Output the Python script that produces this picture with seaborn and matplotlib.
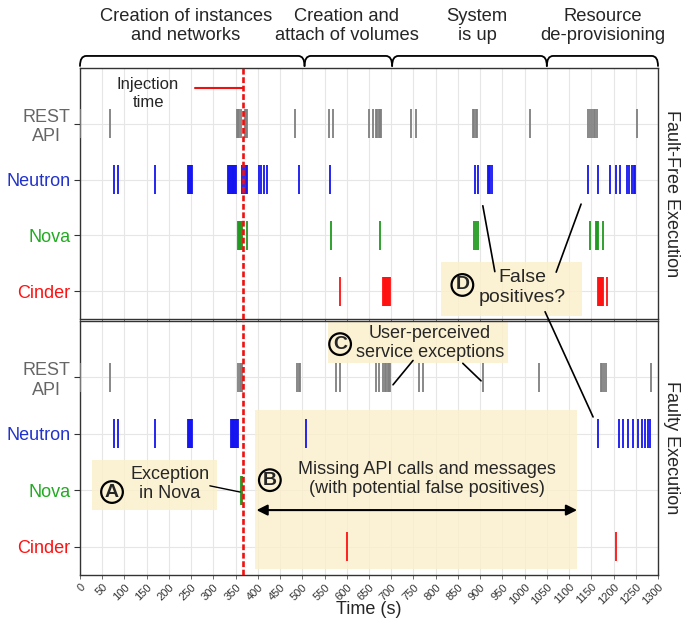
import numpy as np
import pandas as pd
import matplotlib
matplotlib.use("Agg")
import matplotlib.pyplot as plt
from matplotlib.path import Path
from matplotlib.patches import PathPatch, Rectangle, ConnectionPatch
import matplotlib.transforms as mtransforms
import seaborn as sns

# ---- data (seconds) ----
components = ['Cinder', 'Nova', 'Neutron', 'REST API']
tick_labels = ['Cinder', 'Nova', 'Neutron', 'REST\nAPI']

rest_ff = [1, 67, 352, 355, 358, 361, 371, 374, 376, 483, 561, 570, 651, 658, 666, 669, 672,
           675, 678, 744, 756, 884, 887, 890, 894, 1012, 1143, 1147, 1151, 1155, 1159, 1163, 1253]
neutron_ff = [76, 86, 169, 244, 246, 248, 250, 252, 333, 335, 337, 339, 341, 343, 345, 347, 349,
              351, 364, 369, 373, 376, 403, 408, 414, 420, 493, 562, 888, 896, 917, 920, 923, 926,
              1143, 1164, 1192, 1206, 1215, 1230, 1235, 1241, 1246, 1249]
nova_ff = [356, 358, 360, 362, 364, 375, 564, 675, 886, 891, 896, 1146, 1161, 1163, 1165, 1177]
cinder_ff = [585, 681, 683, 685, 687, 689, 691, 693, 695, 697, 1166, 1168, 1170, 1172, 1174, 1176, 1185]

rest_f = [1, 67, 356, 359, 362, 365, 489, 492, 495, 576, 584, 666, 673, 681, 686, 689, 692, 695,
          697, 763, 772, 906, 1033, 1171, 1175, 1179, 1182, 1284]
neutron_f = [76, 86, 169, 244, 246, 248, 250, 252, 339, 341, 343, 345, 347, 349, 351, 353, 356,
             508, 1164, 1213, 1222, 1232, 1243, 1256, 1263, 1271, 1278, 1282]
nova_f = [363, 365]
cinder_f = [600, 1206]

injection_time = 367
phases = ['Creation of instances\nand networks', 'Creation and\nattach of volumes',
          'System\nis up', 'Resource\nde-provisioning']
phase_edges = [0, 505, 702, 1050, 1300]
phase_text_x = [238, 600, 893, 1177]

palette = {'REST API': '#7f7f7f', 'Neutron': '#1414f0', 'Nova': '#1f9a1f', 'Cinder': '#ff1010'}
label_colors = {'REST API': '#666666', 'Neutron': '#2233cc', 'Nova': '#22aa22', 'Cinder': '#ff1111'}


def make_df(rest, neutron, nova, cinder):
    rows = []
    for comp, times in [('REST API', rest), ('Neutron', neutron), ('Nova', nova), ('Cinder', cinder)]:
        for t in times:
            rows.append({'time': t, 'row': components.index(comp), 'component': comp})
    return pd.DataFrame(rows)


df_ff = make_df(rest_ff, neutron_ff, nova_ff, cinder_ff)
df_f = make_df(rest_f, neutron_f, nova_f, cinder_f)

sns.set_style("whitegrid")
plt.rcParams['font.family'] = ['Liberation Sans', 'DejaVu Sans']

W, H = 699, 622
fig = plt.figure(figsize=(W / 100, H / 100), dpi=100)
ax_top = fig.add_axes([80 / W, 1 - 319 / H, 578 / W, 251 / H])
ax_bot = fig.add_axes([80 / W, 1 - 575 / H, 578 / W, 254 / H])

box_color = '#fbefcc'

for ax, df in [(ax_top, df_ff), (ax_bot, df_f)]:
    sns.scatterplot(data=df, x='time', y='row', hue='component', palette=palette,
                    marker='|', s=440, linewidth=1.3, legend=False, ax=ax, zorder=3)
    ax.axvline(injection_time, color='#ee1111', ls=(0, (2.2, 1.0)), lw=1.9, zorder=5)
    ax.set_xlim(0, 1300)
    ax.set_ylim(-0.5, 4)
    ax.set_xticks(np.arange(0, 1301, 50))
    ax.set_yticks(range(4))
    ax.set_yticklabels(tick_labels, fontsize=13)
    for lab, comp in zip(ax.get_yticklabels(), components):
        lab.set_color(label_colors[comp])
        lab.set_multialignment('center')
    ax.grid(True, color='#e6e6e6', lw=0.8)
    ax.set_axisbelow(True)
    ax.set_ylabel('')
    ax.set_xlabel('')
    for sp in ax.spines.values():
        sp.set_color('#333333')
        sp.set_linewidth(1.0)
    ax.tick_params(axis='y', left=True, length=4, width=0.8, color='#333333', pad=3)
    ax.tick_params(axis='x', bottom=True, length=3, width=0.6, color='#555555', pad=2)

ax_top.set_xticklabels([])
ax_bot.set_xticklabels([str(v) for v in range(0, 1301, 50)], rotation=45, ha='right',
                       rotation_mode='anchor', fontsize=8, color='#333333')
ax_bot.set_xlabel('Time (s)', fontsize=13, labelpad=-4)

ax_top.text(1.024, 0.5, 'Fault-Free Execution', transform=ax_top.transAxes, rotation=270,
            ha='center', va='center', fontsize=13)
ax_bot.text(1.024, 0.5, 'Faulty Execution', transform=ax_bot.transAxes, rotation=270,
            ha='center', va='center', fontsize=13)

# ---- phase brackets on top ----
blend = mtransforms.blended_transform_factory(ax_top.transData, ax_top.transAxes)
y_lo, y_hi = 1.008, 1.048
for x0, x1 in zip(phase_edges[:-1], phase_edges[1:]):
    r = 14
    verts = [(x0, y_lo), (x0, y_hi), (x0 + r, y_hi), (x1 - r, y_hi), (x1, y_hi), (x1, y_lo)]
    codes = [Path.MOVETO, Path.CURVE3, Path.CURVE3, Path.LINETO, Path.CURVE3, Path.CURVE3]
    ax_top.add_patch(PathPatch(Path(verts, codes), transform=blend, fill=False, lw=1.3,
                               ec='black', clip_on=False, capstyle='round'))
for txt, x in zip(phases, phase_text_x):
    ax_top.text(x, 1.168, txt, transform=blend, ha='center', va='center', fontsize=13.2,
                linespacing=1.2)

# ---- injection annotation ----
ax_top.plot([259, injection_time], [3.65, 3.65], color='#ee1111', lw=1.5, zorder=5)
ax_top.text(153, 3.54, 'Injection\ntime', ha='center', va='center', fontsize=12)


def circled(ax, x, y, letter):
    ax.text(x, y, letter, ha='center', va='center', fontsize=14, fontweight='bold', zorder=6,
            bbox=dict(boxstyle='circle,pad=0.12', fc='none', ec='black', lw=1.6))


# ---- D: false positives ----
ax_top.add_patch(Rectangle((812, -0.45), 317, 0.98, fc=box_color, ec='none', alpha=0.85, zorder=2))
circled(ax_top, 860, 0.11, 'D')
ax_top.text(995, 0.07, 'False\npositives?', ha='center', va='center', fontsize=14, zorder=6)
ax_top.plot([933, 906], [0.35, 1.53], color='black', lw=1.2, zorder=6)
ax_top.plot([1071, 1127], [0.34, 1.56], color='black', lw=1.2, zorder=6)
con = ConnectionPatch(xyA=(1046, -0.37), coordsA=ax_top.transData,
                      xyB=(1154, 2.30), coordsB=ax_bot.transData, color='black', lw=1.2, zorder=6)
fig.add_artist(con)

# ---- C: user-perceived exceptions ----
ax_bot.add_patch(Rectangle((558, 3.25), 405, 0.75, fc=box_color, ec='none', alpha=0.85, zorder=2))
circled(ax_bot, 585, 3.59, 'C')
ax_bot.text(787, 3.61, 'User-perceived\nservice exceptions', ha='center', va='center',
            fontsize=13, zorder=6)
ax_bot.plot([749, 704], [3.30, 2.87], color='black', lw=1.2, zorder=6)
ax_bot.plot([861, 902], [3.25, 2.94], color='black', lw=1.2, zorder=6)

# ---- B: missing calls ----
ax_bot.add_patch(Rectangle((394, -0.39), 724, 2.81, fc=box_color, ec='none', alpha=0.8, zorder=2))
circled(ax_bot, 427, 1.18, 'B')
ax_bot.text(780, 1.20, 'Missing API calls and messages\n(with potential false positives)',
            ha='center', va='center', fontsize=13, zorder=6)
ax_bot.annotate('', xy=(1118, 0.65), xytext=(397, 0.65),
                arrowprops=dict(arrowstyle='<|-|>', lw=1.5, color='black', mutation_scale=16,
                                shrinkA=0, shrinkB=0), zorder=6)

# ---- A: exception in Nova ----
ax_bot.add_patch(Rectangle((27, 0.65), 281, 0.89, fc=box_color, ec='none', alpha=0.85, zorder=2))
circled(ax_bot, 72, 0.97, 'A')
ax_bot.text(202, 1.11, 'Exception\nin Nova', ha='center', va='center', fontsize=13, zorder=6)
ax_bot.plot([292, 360], [1.08, 0.97], color='black', lw=1.0, zorder=6)

fig.savefig('out.png', dpi=100)
